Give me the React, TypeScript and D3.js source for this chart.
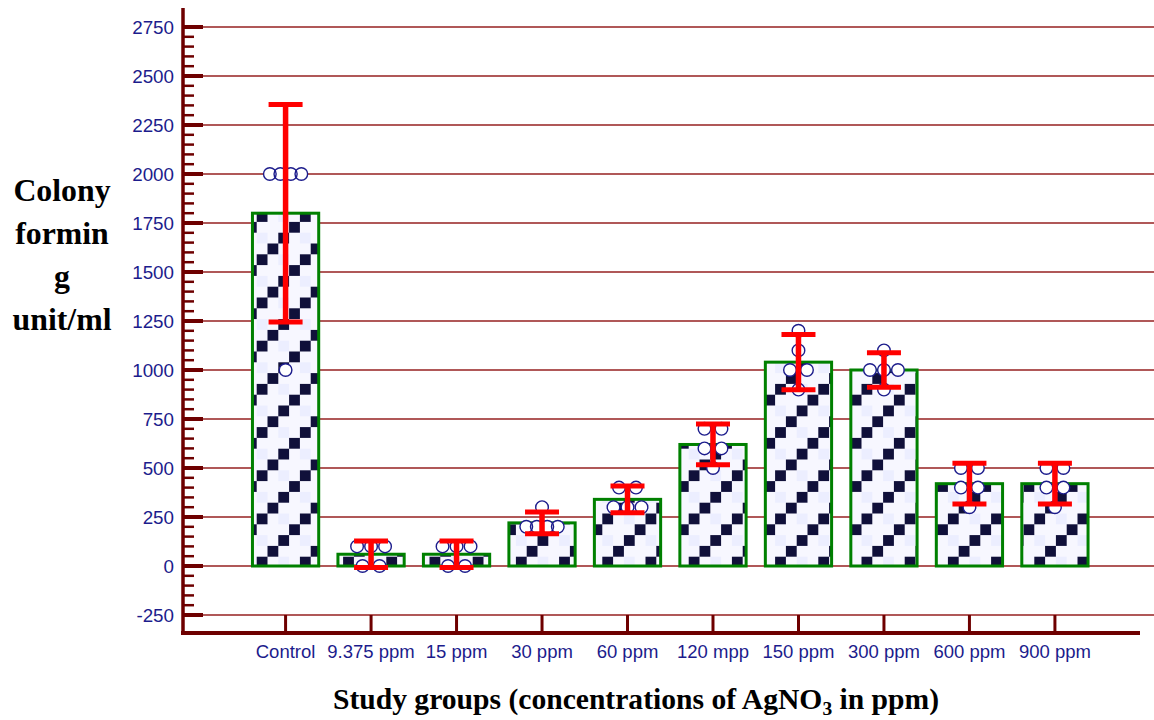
import React from 'react';
import * as d3 from 'd3';

const categories = ['Control', '9.375 ppm', '15 ppm', '30 ppm', '60 ppm', '120 mpp', '150 ppm', '300 ppm', '600 ppm', '900 ppm'];
const means = [1800, 60, 60, 220, 340, 620, 1040, 1000, 420, 420];
const errors95 = [555, 68, 68, 55, 68, 104, 141, 88, 104, 104];
const replicates = [
  [2000, 2000, 2000, 2000, 1000],
  [100, 100, 100, 0, 0],
  [100, 100, 100, 0, 0],
  [300, 200, 200, 200, 200],
  [400, 400, 300, 300, 300],
  [700, 700, 600, 600, 500],
  [1200, 1100, 1000, 1000, 900],
  [1100, 1000, 1000, 1000, 900],
  [500, 500, 400, 400, 300],
  [500, 500, 400, 400, 300],
];
const yTickValues = [-250, 0, 250, 500, 750, 1000, 1250, 1500, 1750, 2000, 2250, 2500, 2750];
const yTitleLines = ['Colony', 'formin', 'g', 'unit/ml'];

const W = 1154;
const H = 720;
const AXIS = '#6e0000';
const GRID = '#8b0a0a';
const NAVY = '#1c1c8c';

export default function App() {
  const x = d3.scalePoint<string>().domain(categories).range([183, 1157.5]).padding(1.2);
  const y = d3.scaleLinear().domain([-250, 2750]).range([615, 27]);
  const step = x.step();
  const barW = step * 0.775;
  const axisX = 183;
  const axisBottom = y(-342);
  const axisTop = y(2847);
  const minorTicks = d3.range(-250, 2751, 50).filter((v) => v % 250 !== 0);

  const cell = 10.8;
  const pts: { cx: number; cy: number }[] = [];
  replicates.forEach((vals, i) => {
    const groups = d3.groups(vals, (v) => v);
    groups.forEach(([v, arr]) => {
      const n = arr.length;
      const sp = n === 2 ? 17 : n === 3 ? 14 : n >= 4 ? 10.5 : 0;
      arr.forEach((_, k) => {
        pts.push({ cx: (x(categories[i]) as number) + (k - (n - 1) / 2) * sp, cy: y(v) });
      });
    });
  });

  const patCells: { c: number; r: number; dark: boolean; tint: boolean }[] = [];
  for (let r = 0; r < 4; r++) for (let c = 0; c < 4; c++) {
    patCells.push({ c, r, dark: (c + r) % 4 === 0, tint: (c + r) % 4 === 2 && r % 2 === 0 });
  }

  return (
    <svg width={W} height={H} style={{ position: 'absolute', left: 0, top: 0, background: '#fff' }}>
      <defs>
        <pattern id="chk" patternUnits="userSpaceOnUse" width={cell * 4} height={cell * 4} x={256.7} y={556.7}>
          {patCells.map((p, i) => (
            <rect key={i} x={p.c * cell} y={p.r * cell} width={cell + 0.3} height={cell + 0.3}
              fill={p.dark ? '#10103a' : p.tint ? '#eceeff' : '#f7f7ff'} />
          ))}
        </pattern>
      </defs>

      {/* gridlines */}
      {yTickValues.map((t) => (
        <line key={'g' + t} x1={axisX} x2={W} y1={y(t)} y2={y(t)} stroke={GRID} strokeWidth={1.4} opacity={0.9} />
      ))}

      {/* bars */}
      {means.map((m, i) => (
        <rect key={'b' + i} x={(x(categories[i]) as number) - barW / 2} y={y(m)} width={barW} height={y(0) - y(m)}
          fill="url(#chk)" stroke="#008000" strokeWidth={3} />
      ))}

      {/* replicate points: fills then outlines */}
      {pts.map((p, i) => (
        <circle key={'pf' + i} cx={p.cx} cy={p.cy} r={6.3} fill="#fff" />
      ))}
      {pts.map((p, i) => (
        <circle key={'ps' + i} cx={p.cx} cy={p.cy} r={6.3} fill="none" stroke={NAVY} strokeWidth={1.4} />
      ))}

      {/* error bars */}
      {means.map((m, i) => {
        const cx = x(categories[i]) as number;
        const hi = y(m + errors95[i]);
        const lo = y(m - errors95[i]);
        return (
          <g key={'e' + i} stroke="#ff0000">
            <line x1={cx} x2={cx} y1={hi} y2={lo} strokeWidth={5.5} />
            <line x1={cx - 17} x2={cx + 17} y1={hi} y2={hi} strokeWidth={5} />
            <line x1={cx - 17} x2={cx + 17} y1={lo} y2={lo} strokeWidth={5} />
          </g>
        );
      })}

      {/* y axis */}
      <line x1={axisX} x2={axisX} y1={axisTop} y2={axisBottom + 2} stroke={AXIS} strokeWidth={3.5} />
      {yTickValues.map((t) => (
        <line key={'mt' + t} x1={axisX} x2={203} y1={y(t)} y2={y(t)} stroke={AXIS} strokeWidth={4} />
      ))}
      {minorTicks.map((t) => (
        <line key={'nt' + t} x1={axisX} x2={194} y1={y(t)} y2={y(t)} stroke={AXIS} strokeWidth={2.5} />
      ))}
      {yTickValues.map((t) => (
        <text key={'yl' + t} x={174} y={y(t)} dy="0.36em" textAnchor="end" fill={NAVY}
          fontFamily="'Liberation Sans', Arial, sans-serif" fontSize={18.8}>{t}</text>
      ))}

      {/* x axis */}
      <line x1={axisX - 2} x2={1140} y1={axisBottom} y2={axisBottom} stroke={AXIS} strokeWidth={4} />
      {categories.map((c) => (
        <line key={'xt' + c} x1={x(c) as number} x2={x(c) as number} y1={y(-250)} y2={axisBottom} stroke={AXIS} strokeWidth={3} />
      ))}
      {categories.map((c) => (
        <text key={'xl' + c} x={x(c) as number} y={658} textAnchor="middle" fill={NAVY}
          fontFamily="'Liberation Sans', Arial, sans-serif" fontSize={18.5}>{c}</text>
      ))}

      {/* y title */}
      {yTitleLines.map((l, i) => (
        <text key={'yt' + i} x={62} y={201 + i * 43} textAnchor="middle" fill="#000"
          fontFamily="'Liberation Serif', 'Times New Roman', serif" fontWeight="bold" fontSize={31.8}>{l}</text>
      ))}

      {/* x title */}
      <text x={636} y={709} textAnchor="middle" fill="#000"
        fontFamily="'Liberation Serif', 'Times New Roman', serif" fontWeight="bold" fontSize={29.6}>
        Study groups (concentrations of AgNO<tspan fontSize={19.5} dy={6}>3</tspan><tspan dy={-6}> in ppm)</tspan>
      </text>
    </svg>
  );
}
